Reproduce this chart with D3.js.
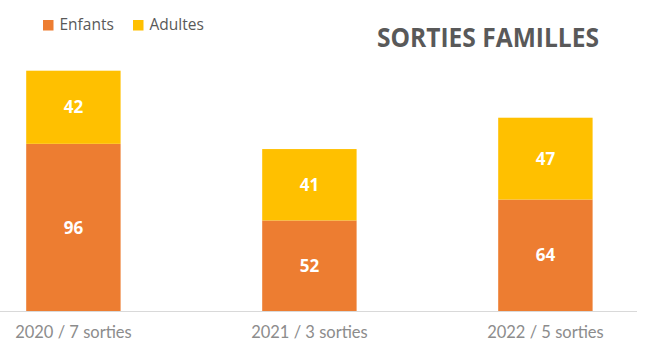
<!DOCTYPE html>
<html><head><meta charset="utf-8">
<script src="https://cdn.jsdelivr.net/npm/d3@7"></script>
<style>html,body{margin:0;padding:0;background:#fff;}svg{display:block;}</style>
</head><body>
<script>
const categories = ["2020 / 7 sorties", "2021 / 3 sorties", "2022 / 5 sorties"];
const enfants = [96, 52, 64];
const adultes = [42, 41, 47];
const seriesNames = ["Enfants", "Adultes"];
const seriesColors = ["#ED7D31", "#FFC000"];
const title = "SORTIES FAMILLES";

const W = 646, H = 342;
const svg = d3.select("body").append("svg").attr("width", W).attr("height", H);

const x = d3.scaleBand().domain(categories).range([-44.6, 663.4]).paddingInner(0.6).paddingOuter(0.3);
const y = d3.scaleLinear().domain([0, 138]).range([311, 70.7]);

const rows = categories.map((c, i) => ({cat: c, Enfants: enfants[i], Adultes: adultes[i]}));
const stack = d3.stack().keys(seriesNames)(rows);

// axis line
svg.append("line").attr("x1", 0).attr("x2", 637).attr("y1", y(0) + 0.5).attr("y2", y(0) + 0.5)
  .attr("stroke", "#d9d9d9").attr("stroke-width", 1);

const groups = svg.selectAll("g.series").data(stack).join("g").attr("class", "series")
  .attr("fill", (d, i) => seriesColors[i]);
groups.selectAll("rect").data(d => d).join("rect")
  .attr("x", d => x(d.data.cat))
  .attr("width", x.bandwidth())
  .attr("y", d => y(d[1]))
  .attr("height", d => y(d[0]) - y(d[1]));

groups.selectAll("text").data(d => d).join("text")
  .attr("x", d => x(d.data.cat) + x.bandwidth() / 2)
  .attr("y", d => (y(d[0]) + y(d[1])) / 2)
  .attr("dy", "0.36em")
  .attr("text-anchor", "middle")
  .attr("fill", "#fff")
  .attr("font-family", "'Open Sans', sans-serif")
  .attr("font-weight", "bold")
  .attr("font-size", 17)
  .text(d => d[1] - d[0]);

// x axis labels
const xAxis = d3.axisBottom(x).tickSize(0).tickPadding(0);
const gx = svg.append("g").attr("transform", `translate(0,${y(0)})`).call(xAxis);
gx.select(".domain").remove();
gx.selectAll("text").attr("font-family", "Lato, sans-serif").attr("font-size", 16.5)
  .attr("fill", "#8c8c8c").attr("dy", "1.62em");

// legend
const leg = svg.append("g");
const legX = [43, 133];
seriesNames.forEach((n, i) => {
  leg.append("rect").attr("x", legX[i]).attr("y", 20).attr("width", 10.5).attr("height", 10.5).attr("fill", seriesColors[i]);
  leg.append("text").attr("x", legX[i] + 16.5).attr("y", 30).attr("font-family", "'Open Sans', sans-serif")
    .attr("font-size", 15.5).attr("fill", "#595959").text(n);
});

// title
svg.append("text").attr("x", 377).attr("y", 47.3).attr("font-family", "'Open Sans', sans-serif")
  .attr("font-weight", "bold").attr("font-size", 26).attr("fill", "#595959")
  .attr("textLength", 222).attr("lengthAdjust", "spacingAndGlyphs").text(title);
</script>
</body></html>
